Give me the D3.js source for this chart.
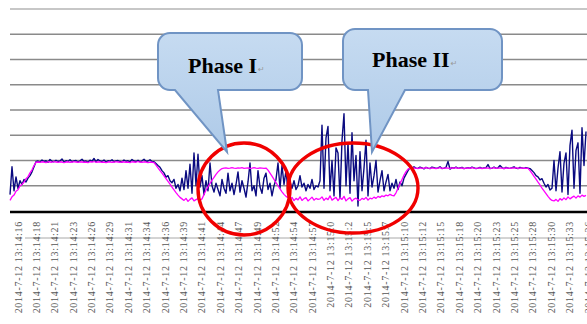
<!DOCTYPE html>
<html>
<head>
<meta charset="utf-8">
<script src="https://cdn.jsdelivr.net/npm/d3@7"></script>
<style>
  body { margin: 0; background: #fff; }
  svg { display: block; }
  .tick-label { font-family: "Liberation Serif", "Times New Roman", serif; font-size: 10px; fill: #555; letter-spacing: 0.7px; }
  .phase { font-family: "Liberation Serif", "Times New Roman", serif; font-size: 22px; font-weight: bold; fill: #000; }
  .mark { font-family: "DejaVu Sans", sans-serif; font-size: 8px; fill: #999; }
</style>
</head>
<body>
<div class="chart"></div>
<script>
// sampled values, one every ~2px across the plot
const navySeries = [
  6.5, 17.5, 8.0, 13.5, 9.0, 12.0, 10.5, 12.5, 11.5, 13.0, 14.0, 15.5, 17.5, 19.5,
  19.8, 19.4, 20.2, 19.6, 19.9, 19.3, 20.4, 19.7, 19.5, 20.1, 19.6, 19.8, 20.6, 19.4, 19.9, 19.6,
  20.3, 19.5, 19.8, 20.0, 19.4, 19.9, 20.5, 19.6, 19.8, 19.3, 20.1, 19.7, 20.8, 19.5, 20.4, 19.8,
  19.6, 20.2, 19.4, 19.9, 19.7, 20.3, 19.5, 19.8, 20.0, 19.6, 19.4, 20.2, 19.7, 19.9, 19.5, 20.4,
  19.8, 19.6, 20.1, 19.5, 19.9, 20.5, 19.7, 19.8, 20.3, 19.6,
  19.5, 18.8, 18.0, 17.3, 16.0, 15.1, 13.4, 14.0, 12.0, 11.2, 12.5, 9.0, 10.5, 8.0,
  13.0, 8.5, 16.0, 9.0, 18.5, 7.0, 23.0, 10.0, 22.5,
  9.5, 14.0, 6.5, 12.0, 8.0, 19.0, 10.0, 7.5, 11.0, 8.5, 6.0, 12.5, 9.0, 7.0, 15.0, 8.0,
  11.0, 6.5, 10.5, 15.5, 7.5, 12.0, 9.0, 5.5, 11.5, 19.0, 8.0, 10.0, 6.0, 16.0, 9.5, 7.0,
  13.0, 15.0, 8.5, 11.0, 6.0, 10.0, 12.5, 19.0, 9.0, 18.0, 10.5, 16.0, 8.0,
  11.5, 9.0, 12.0, 8.5, 10.0, 14.0, 9.5, 11.0, 8.0, 10.5, 9.0, 12.5, 8.5, 10.0, 9.5,
  12.0, 34.0, 9.0, 29.0, 33.5, 8.0, 20.0, 6.0, 25.0, 23.0, 5.0, 28.0, 38.5, 10.0, 27.0, 7.0,
  31.0, 12.0, 22.0, 2.0,
  23.5, 8.0, 17.0, 28.0, 6.0, 19.0, 9.5, 14.0, 20.0, 7.5, 12.0, 16.0, 8.0, 11.5, 14.5, 8.0, 11.0,
  9.0, 12.5, 8.5, 11.5, 10.0, 13.0, 14.5, 16.0,
  17.2, 16.8, 17.5, 17.0, 16.9, 17.4, 17.1, 16.7, 17.3, 17.0,
  16.8, 17.4, 17.2, 16.9, 17.1, 17.5, 16.8, 17.0, 17.3, 19.6,
  16.6, 17.2, 17.0, 17.4, 16.9, 17.1, 17.3, 16.8, 17.0, 17.2,
  16.9, 17.4, 17.1, 16.8, 17.0, 17.3, 16.9, 17.1, 17.2, 18.4,
  16.8, 17.0, 17.4, 16.9, 17.1, 18.0, 17.2, 16.8, 17.3, 17.0,
  16.9, 17.2, 17.5, 17.0, 16.8, 17.3, 17.1, 16.9, 17.2, 17.0,
  16.8, 16.0, 15.2, 14.0, 13.5, 12.3, 12.8, 11.0, 9.5, 10.5, 8.3, 9.0,
  20.0, 8.0, 17.0, 23.5, 7.5, 19.0, 23.0, 6.5, 26.0, 32.0, 9.0, 24.0, 27.0, 7.0, 33.0, 18.0, 31.5
];

const magentaSeries = [
  4.2, 5.6, 6.3, 7.8, 8.4, 9.9, 10.6, 11.4, 12.8, 13.6, 15.1, 16.3, 18.0, 19.3,
  19.4, 19.3, 19.5, 19.4, 19.2, 19.5, 19.4, 19.3, 19.6, 19.4,
  19.3, 19.5, 19.4, 19.2, 19.4, 19.5, 19.3, 19.4, 19.6, 19.4,
  19.3, 19.5, 19.4, 19.3, 19.4, 19.2, 19.5, 19.4, 19.6, 19.3,
  19.4, 19.5, 19.3, 19.4, 19.2, 19.4, 19.5, 19.3, 19.4, 19.6,
  19.4, 19.3, 19.5, 19.4, 19.3, 19.4, 19.2, 19.5, 19.4, 19.3,
  19.6, 19.4, 19.3, 19.5, 19.4, 19.2, 19.4, 19.3,
  19.2, 18.2, 17.1, 16.0, 15.0, 13.9, 12.8, 11.7, 10.6, 9.5, 8.4, 7.3, 6.3, 5.4,
  4.8, 4.2, 5.0, 3.8, 4.6, 5.2, 4.0, 4.5, 4.9,
  4.3, 4.8, 6.5, 8.2, 9.6, 10.9, 12.2, 13.3, 14.5, 15.5, 16.2, 16.8, 17.0,
  17.1, 16.9, 17.0, 17.2, 17.0, 16.9, 17.1, 17.0, 17.2, 16.9, 17.0, 17.1, 16.9, 17.0, 17.2,
  17.0, 16.9, 17.1, 17.0, 16.9, 17.0,
  16.2, 15.0, 13.8, 12.5, 11.2, 10.0, 8.8, 7.6, 6.6, 5.8, 5.3,
  4.6, 5.4, 4.1, 5.0, 4.4, 5.6, 4.2, 4.9, 5.3, 4.0, 4.7, 5.5, 4.3, 5.0, 4.6,
  4.8, 5.6, 4.2, 5.1, 4.5, 6.0, 4.3, 4.9, 5.4, 4.1, 5.2, 4.6, 5.8, 4.0, 4.8, 5.3, 3.9, 4.7, 5.1, 4.4,
  4.2, 5.0, 4.6, 5.4, 4.3, 5.1, 4.8, 5.5, 5.0, 5.8, 5.4, 6.0, 5.7, 6.3, 6.0, 6.6, 6.2,
  6.0, 7.2, 9.0, 10.8, 12.5, 14.2, 15.6, 16.6,
  17.0, 16.9, 17.1, 17.0, 16.8, 17.1, 17.0, 16.9, 17.2, 17.0,
  16.9, 17.1, 17.0, 16.8, 17.0, 17.2, 16.9, 17.0, 17.1, 17.0,
  16.9, 17.1, 17.0, 17.2, 16.9, 17.0, 17.1, 16.8, 17.0, 17.1,
  16.9, 17.2, 17.0, 16.9, 17.0, 17.1, 16.8, 17.0, 17.1, 17.0,
  16.9, 17.0, 17.2, 16.9, 17.0, 17.1, 17.0, 16.8, 17.1, 17.0,
  16.9, 17.1, 17.0, 17.2, 16.9, 17.0, 17.1, 16.9, 17.0, 16.9,
  16.0, 14.9, 13.7, 12.6, 11.4, 10.3, 9.1, 8.0, 6.9, 5.8, 4.8, 4.2,
  4.0, 4.6, 3.8, 4.9, 4.3, 5.2, 4.5, 5.6, 4.8, 5.4, 5.9, 5.1, 6.0, 5.5, 6.3, 5.8, 6.2
];

const timeLabels = [
  "2014-7-12 13:14:16", "2014-7-12 13:14:18", "2014-7-12 13:14:21", "2014-7-12 13:14:23",
  "2014-7-12 13:14:26", "2014-7-12 13:14:29", "2014-7-12 13:14:31", "2014-7-12 13:14:34",
  "2014-7-12 13:14:36", "2014-7-12 13:14:39", "2014-7-12 13:14:41", "2014-7-12 13:14:44",
  "2014-7-12 13:14:47", "2014-7-12 13:14:49", "2014-7-12 13:14:52", "2014-7-12 13:14:54",
  "2014-7-12 13:14:57", "2014-7-12 13:15:0", "2014-7-12 13:15:2", "2014-7-12 13:15:5",
  "2014-7-12 13:15:7", "2014-7-12 13:15:10", "2014-7-12 13:15:12", "2014-7-12 13:15:15",
  "2014-7-12 13:15:18", "2014-7-12 13:15:20", "2014-7-12 13:15:23", "2014-7-12 13:15:25",
  "2014-7-12 13:15:28", "2014-7-12 13:15:30", "2014-7-12 13:15:33", "2014-7-12 13:15:36"
];

const gridValues = [10, 20, 30, 40, 50, 60, 70, 80];

const phaseNames = ["Phase I", "Phase II"];

function drawChart() {
  const width = 587, height = 324;
  const svg = d3.select("div.chart").append("svg")
    .attr("width", width)
    .attr("height", height);

  const x = d3.scaleLinear().domain([0, navySeries.length - 1]).range([10, 586]);
  const y = d3.scaleLinear().domain([0, 80]).range([211, 9]);
  const xLabel = d3.scalePoint().domain(timeLabels).range([18, 588]);

  // gradient for the callouts
  const grad = svg.append("defs").append("linearGradient")
    .attr("id", "callFill").attr("x1", 0).attr("y1", 0).attr("x2", 0).attr("y2", 1);
  grad.append("stop").attr("offset", "0%").attr("stop-color", "#c6dbf1");
  grad.append("stop").attr("offset", "100%").attr("stop-color", "#aecae8");

  svg.append("g")
    .selectAll("line")
    .data(gridValues)
    .join("line")
    .attr("x1", 10).attr("x2", width)
    .attr("y1", (d) => y(d)).attr("y2", (d) => y(d))
    .attr("stroke", (d) => (d === 80 ? "#b4b4b4" : "#8a8a8a"))
    .attr("stroke-width", 1.3);

  const line = d3.line()
    .x((d, i) => x(i))
    .y((d) => y(d));

  svg.append("path")
    .datum(navySeries)
    .attr("d", line)
    .attr("fill", "none")
    .attr("stroke", "#0a0a80")
    .attr("stroke-width", 1.4)
    .attr("stroke-linejoin", "round");

  svg.append("path")
    .datum(magentaSeries)
    .attr("d", line)
    .attr("fill", "none")
    .attr("stroke", "#ff00ff")
    .attr("stroke-width", 1.3)
    .attr("stroke-linejoin", "round");

  // category axis
  svg.append("line")
    .attr("x1", 10).attr("x2", width)
    .attr("y1", y(0) + 1).attr("y2", y(0) + 1)
    .attr("stroke", "#000").attr("stroke-width", 2.5);

  svg.append("line")
    .attr("x1", 25).attr("x2", width)
    .attr("y1", 238).attr("y2", 238)
    .attr("stroke", "#a8a8a8").attr("stroke-width", 1);

  svg.append("g")
    .selectAll("text")
    .data(timeLabels)
    .join("text")
    .attr("class", "tick-label")
    .attr("transform", (d) => `translate(${xLabel(d)},221) rotate(-90)`)
    .attr("text-anchor", "end")
    .attr("dy", "0.35em")
    .text((d) => d);

  // red rings round the two phases
  svg.append("ellipse")
    .attr("cx", 244).attr("cy", 189).attr("rx", 46).attr("ry", 46)
    .attr("fill", "none").attr("stroke", "#f00000").attr("stroke-width", 3.4);
  svg.append("ellipse")
    .attr("cx", 353).attr("cy", 188).attr("rx", 65).attr("ry", 45)
    .attr("fill", "none").attr("stroke", "#f00000").attr("stroke-width", 3.4);

  const callouts = [
    { x0: 158, x1: 302, y0: 33, y1: 90, t0: 175, t1: 218, tip: [227, 152] },
    { x0: 343, x1: 502, y0: 29, y1: 90, t0: 368, t1: 405, tip: [372, 152] }
  ];
  const r = 12;
  const calloutPath = (c) => {
    const p = d3.path();
    p.moveTo(c.x0 + r, c.y0);
    p.lineTo(c.x1 - r, c.y0);
    p.arcTo(c.x1, c.y0, c.x1, c.y0 + r, r);
    p.lineTo(c.x1, c.y1 - r);
    p.arcTo(c.x1, c.y1, c.x1 - r, c.y1, r);
    p.lineTo(c.t1, c.y1);
    p.lineTo(c.tip[0], c.tip[1]);
    p.lineTo(c.t0, c.y1);
    p.lineTo(c.x0 + r, c.y1);
    p.arcTo(c.x0, c.y1, c.x0, c.y1 - r, r);
    p.lineTo(c.x0, c.y0 + r);
    p.arcTo(c.x0, c.y0, c.x0 + r, c.y0, r);
    p.closePath();
    return p.toString();
  };

  svg.append("g")
    .selectAll("path")
    .data(callouts)
    .join("path")
    .attr("d", calloutPath)
    .attr("fill", "url(#callFill)")
    .attr("stroke", "#7094c4")
    .attr("stroke-width", 2);

  const textPos = [[188, 73], [372, 67]];
  svg.append("g")
    .selectAll("text")
    .data(phaseNames)
    .join("text")
    .attr("class", "phase")
    .attr("x", (d, i) => textPos[i][0])
    .attr("y", (d, i) => textPos[i][1])
    .text((d) => d)
    .each(function (d, i) {
      const box = this.getBBox();
      svg.append("text")
        .attr("class", "mark")
        .attr("x", box.x + box.width + 1)
        .attr("y", textPos[i][1] - 1)
        .text("\u21b5");
    });
}

addEventListener("DOMContentLoaded", drawChart);
</script>
</body>
</html>
